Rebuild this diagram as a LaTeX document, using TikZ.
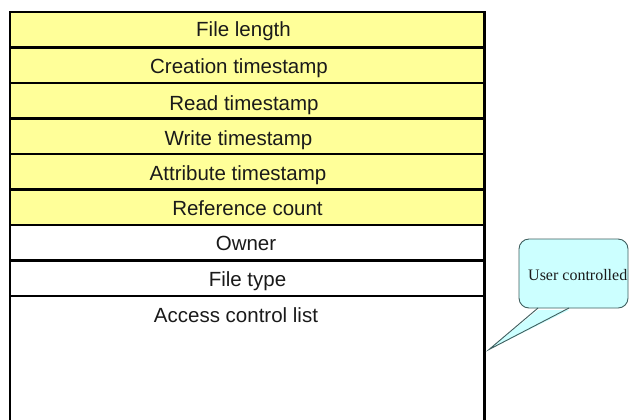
\documentclass[tikz,border=0pt]{standalone}
\usepackage{fontspec}
\setmainfont{Liberation Sans}
\newfontfamily\calloutfont{Liberation Serif}
\definecolor{rowyellow}{HTML}{FFFF99}
\definecolor{calloutcyan}{HTML}{CCFFFF}
\definecolor{calloutline}{HTML}{3F5F5F}
\definecolor{inktext}{HTML}{1A1A1A}
\begin{document}
\begin{tikzpicture}[x=1bp,y=-1bp,
  rowbox/.style={draw=black, line width=2.5bp, rectangle, inner sep=0pt,
    minimum width=474.5bp, minimum height=35.5bp},
  yellowrow/.style={rowbox, fill=rowyellow},
  whiterow/.style={rowbox, fill=white},
  rowtext/.style={anchor=base, inner sep=0pt, text=inktext,
    font=\fontsize{20.5bp}{24bp}\selectfont},
  calloutbox/.style={draw=calloutline, fill=calloutcyan, line width=0.9bp,
    rounded corners=10bp, rectangle, inner sep=0pt,
    minimum width=109bp, minimum height=69bp},
  callouttext/.style={anchor=base west, inner sep=0pt, text=inktext,
    font=\calloutfont\fontsize{16bp}{19bp}\selectfont},
  pointer/.style={draw=calloutline, line width=0.9bp, line join=miter}
]
\useasboundingbox (0,0) rectangle (629,419);
\clip (0,0) rectangle (629,419);
\fill[white] (0,0) rectangle (629,419);

% rows
\node[yellowrow] (r1) at (247.25,29.75) {};
\node[yellowrow] (r2) at (247.25,65.25) {};
\node[yellowrow] (r3) at (247.25,100.75) {};
\node[yellowrow] (r4) at (247.25,136.25) {};
\node[yellowrow] (r5) at (247.25,171.75) {};
\node[yellowrow] (r6) at (247.25,207.25) {};
\node[whiterow] (r7) at (247.25,242.75) {};
\node[whiterow] (r8) at (247.25,278.25) {};
\node[whiterow, minimum height=144bp] (r9) at (247.25,368) {};

% row texts
\node[rowtext] (t1) at (243.5,36) {File length};
\node[rowtext] (t2) at (239,73) {Creation timestamp};
\node[rowtext] (t3) at (244,110) {Read timestamp};
\node[rowtext] (t4) at (238.5,145) {Write timestamp};
\node[rowtext] (t5) at (238,180.5) {Attribute timestamp};
\node[rowtext] (t6) at (247.5,215.5) {Reference count};
\node[rowtext] (t7) at (246,250.5) {Owner};
\node[rowtext] (t8) at (247.5,286) {File type};
\node[rowtext] (t9) at (236,322) {Access control list};

% callout
\node[calloutbox] (uc) at (573.5,273.5) {};
\coordinate (tip) at (489,349.5);
\coordinate (baseL) at (538,308);
\coordinate (baseR) at (569,308);
\fill[calloutcyan] ([yshift=-2bp]baseL) -- (tip) -- ([yshift=-2bp]baseR) -- cycle;
\draw[pointer] (baseL) -- (tip) -- (baseR);
\node[callouttext] (uct) at (528,280) {User controlled};
\end{tikzpicture}
\end{document}
